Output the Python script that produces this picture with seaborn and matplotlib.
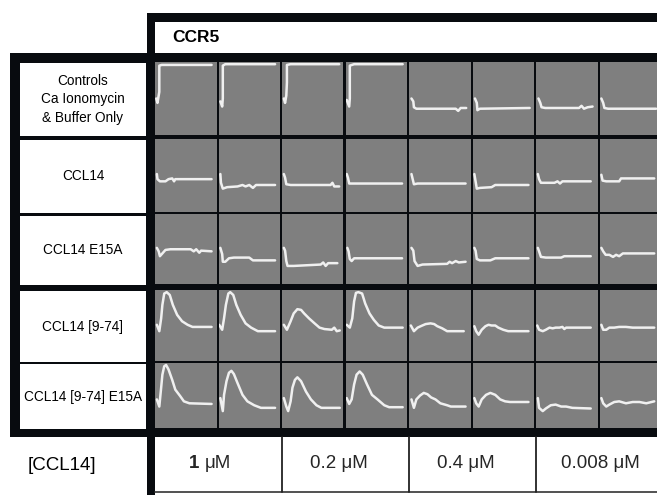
import matplotlib
matplotlib.use("Agg")
import matplotlib.pyplot as plt
from matplotlib.patches import Rectangle
import seaborn as sns

sns.set_theme(style="white")
plt.rcParams['font.family'] = ['Liberation Sans', 'DejaVu Sans']

# ---------------- data ----------------
receptor = "CCR5"
row_labels = ["Controls\nCa Ionomycin\n& Buffer Only", "CCL14", "CCL14 E15A",
              "CCL14 [9-74]", "CCL14 [9-74] E15A"]
conc_axis_label = "[CCL14]"
conc_values = ["1", "0.2", "0.4", "0.008"]
conc_unit = "\u03bcM"

# traces: normalized time (0..1) and normalized signal (0..1) per cell, 8 cells per row
controls_t = [
    [0.02, 0.04, 0.07, 0.07, 0.11, 0.92],
    [0.03, 0.06, 0.07, 0.07, 0.11, 0.92],
    [0.03, 0.05, 0.07, 0.08, 0.08, 0.08, 0.14, 0.93],
    [0.02, 0.06, 0.07, 0.07, 0.14, 0.93],
    [0.04, 0.07, 0.08, 0.12, 0.76, 0.80, 0.84, 0.93],
    [0.04, 0.07, 0.08, 0.12, 0.93],
    [0.04, 0.07, 0.09, 0.15, 0.70, 0.74, 0.78, 0.84, 0.92],
    [0.03, 0.06, 0.08, 0.14, 0.92],
]
controls_v = [
    [0.50, 0.44, 0.59, 0.95, 0.96, 0.96],
    [0.46, 0.39, 0.50, 0.95, 0.97, 0.97],
    [0.50, 0.44, 0.54, 0.72, 0.86, 0.96, 0.97, 0.97],
    [0.48, 0.39, 0.50, 0.95, 0.97, 0.97],
    [0.50, 0.46, 0.38, 0.36, 0.36, 0.33, 0.37, 0.37],
    [0.50, 0.44, 0.34, 0.36, 0.37],
    [0.50, 0.44, 0.38, 0.37, 0.37, 0.40, 0.36, 0.38, 0.39],
    [0.50, 0.44, 0.37, 0.36, 0.36],
]

ccl14_t = [
    [0.03, 0.04, 0.08, 0.17, 0.22, 0.28, 0.31, 0.33, 0.92],
    [0.03, 0.04, 0.07, 0.14, 0.31, 0.39, 0.44, 0.50, 0.56, 0.61, 0.92],
    [0.03, 0.05, 0.07, 0.14, 0.79, 0.82, 0.85, 0.93],
    [0.02, 0.04, 0.06, 0.13, 0.92],
    [0.04, 0.06, 0.08, 0.14, 0.92],
    [0.03, 0.05, 0.07, 0.12, 0.31, 0.37, 0.91],
    [0.03, 0.05, 0.08, 0.16, 0.30, 0.35, 0.39, 0.43, 0.89],
    [0.03, 0.05, 0.11, 0.32, 0.35, 0.89],
]
ccl14_v = [
    [0.52, 0.45, 0.42, 0.42, 0.45, 0.46, 0.42, 0.45, 0.45],
    [0.52, 0.40, 0.32, 0.34, 0.35, 0.37, 0.35, 0.37, 0.33, 0.37, 0.37],
    [0.52, 0.47, 0.38, 0.37, 0.37, 0.40, 0.35, 0.35],
    [0.52, 0.47, 0.39, 0.39, 0.39],
    [0.52, 0.45, 0.38, 0.39, 0.39],
    [0.52, 0.42, 0.32, 0.33, 0.34, 0.37, 0.37],
    [0.52, 0.45, 0.40, 0.40, 0.40, 0.42, 0.39, 0.42, 0.42],
    [0.51, 0.43, 0.42, 0.42, 0.46, 0.46],
]

e15a_t = [
    [0.03, 0.06, 0.08, 0.13, 0.17, 0.25, 0.58, 0.63, 0.67, 0.72, 0.75, 0.92],
    [0.03, 0.06, 0.07, 0.11, 0.17, 0.25, 0.50, 0.56, 0.92],
    [0.03, 0.05, 0.07, 0.09, 0.19, 0.63, 0.67, 0.71, 0.75, 0.90],
    [0.03, 0.05, 0.07, 0.10, 0.14, 0.92],
    [0.04, 0.07, 0.09, 0.14, 0.22, 0.62, 0.66, 0.70, 0.76, 0.81, 0.92],
    [0.03, 0.05, 0.07, 0.12, 0.29, 0.37, 0.91],
    [0.03, 0.05, 0.08, 0.16, 0.41, 0.46, 0.89],
    [0.03, 0.06, 0.10, 0.16, 0.22, 0.27, 0.32, 0.38, 0.89],
]
e15a_v = [
    [0.52, 0.47, 0.40, 0.45, 0.49, 0.50, 0.50, 0.47, 0.50, 0.45, 0.48, 0.47],
    [0.52, 0.43, 0.32, 0.32, 0.37, 0.38, 0.38, 0.34, 0.34],
    [0.52, 0.48, 0.33, 0.26, 0.26, 0.28, 0.31, 0.26, 0.30, 0.30],
    [0.52, 0.47, 0.36, 0.33, 0.37, 0.37],
    [0.52, 0.48, 0.33, 0.26, 0.28, 0.29, 0.32, 0.30, 0.33, 0.31, 0.32],
    [0.52, 0.48, 0.36, 0.34, 0.34, 0.37, 0.37],
    [0.52, 0.47, 0.39, 0.38, 0.38, 0.40, 0.40],
    [0.52, 0.47, 0.42, 0.42, 0.39, 0.42, 0.40, 0.44, 0.44],
]

trunc_t = [
    [0.03, 0.07, 0.10, 0.12, 0.15, 0.19, 0.24, 0.29, 0.36, 0.44, 0.53, 0.61, 0.92],
    [0.01, 0.06, 0.09, 0.12, 0.16, 0.19, 0.24, 0.29, 0.36, 0.44, 0.53, 0.64, 0.92],
    [0.03, 0.08, 0.14, 0.19, 0.25, 0.31, 0.36, 0.44, 0.53, 0.61, 0.69, 0.81, 0.85, 0.89, 0.94],
    [0.02, 0.07, 0.11, 0.14, 0.17, 0.21, 0.27, 0.32, 0.39, 0.46, 0.54, 0.63, 0.71, 0.93],
    [0.03, 0.08, 0.14, 0.19, 0.27, 0.35, 0.41, 0.46, 0.54, 0.62, 0.89],
    [0.03, 0.06, 0.10, 0.15, 0.21, 0.26, 0.31, 0.37, 0.42, 0.50, 0.58, 0.91],
    [0.02, 0.05, 0.11, 0.16, 0.22, 0.27, 0.32, 0.38, 0.43, 0.46, 0.49, 0.89],
    [0.03, 0.06, 0.11, 0.16, 0.24, 0.32, 0.43, 0.54, 0.62, 0.89],
]
trunc_v = [
    [0.51, 0.42, 0.60, 0.79, 0.95, 0.97, 0.93, 0.79, 0.65, 0.56, 0.51, 0.48, 0.48],
    [0.51, 0.44, 0.60, 0.79, 0.95, 0.97, 0.93, 0.79, 0.65, 0.53, 0.47, 0.42, 0.42],
    [0.51, 0.44, 0.56, 0.67, 0.73, 0.72, 0.67, 0.60, 0.53, 0.47, 0.45, 0.44, 0.47, 0.42, 0.43],
    [0.51, 0.47, 0.60, 0.84, 0.96, 0.97, 0.95, 0.81, 0.67, 0.58, 0.50, 0.47, 0.47, 0.47],
    [0.50, 0.42, 0.47, 0.49, 0.52, 0.53, 0.52, 0.49, 0.46, 0.42, 0.42],
    [0.49, 0.42, 0.37, 0.44, 0.49, 0.51, 0.50, 0.50, 0.47, 0.44, 0.42, 0.42],
    [0.50, 0.44, 0.42, 0.44, 0.47, 0.46, 0.47, 0.47, 0.48, 0.45, 0.47, 0.47],
    [0.51, 0.44, 0.44, 0.47, 0.47, 0.48, 0.48, 0.47, 0.47, 0.47],
]

trunc_e15a_t = [
    [0.03, 0.07, 0.10, 0.12, 0.15, 0.18, 0.22, 0.28, 0.33, 0.41, 0.47, 0.56, 0.92],
    [0.03, 0.07, 0.09, 0.13, 0.17, 0.21, 0.25, 0.31, 0.39, 0.47, 0.58, 0.69, 0.92],
    [0.03, 0.07, 0.10, 0.14, 0.17, 0.21, 0.25, 0.31, 0.39, 0.47, 0.56, 0.64, 0.94],
    [0.02, 0.06, 0.10, 0.14, 0.18, 0.23, 0.28, 0.35, 0.43, 0.52, 0.63, 0.71, 0.93],
    [0.04, 0.08, 0.12, 0.18, 0.24, 0.30, 0.36, 0.43, 0.51, 0.62, 0.68, 0.92],
    [0.03, 0.06, 0.10, 0.15, 0.22, 0.29, 0.37, 0.45, 0.53, 0.61, 0.91],
    [0.03, 0.05, 0.11, 0.16, 0.24, 0.32, 0.41, 0.49, 0.59, 0.89],
    [0.03, 0.06, 0.11, 0.16, 0.24, 0.32, 0.43, 0.54, 0.65, 0.76, 0.89],
]
trunc_e15a_v = [
    [0.44, 0.33, 0.62, 0.82, 0.95, 0.97, 0.90, 0.74, 0.59, 0.49, 0.41, 0.38, 0.37],
    [0.46, 0.26, 0.51, 0.72, 0.85, 0.88, 0.83, 0.69, 0.51, 0.41, 0.35, 0.31, 0.31],
    [0.46, 0.33, 0.26, 0.41, 0.62, 0.74, 0.78, 0.72, 0.56, 0.44, 0.35, 0.31, 0.31],
    [0.46, 0.37, 0.44, 0.67, 0.82, 0.87, 0.82, 0.67, 0.51, 0.44, 0.35, 0.32, 0.32],
    [0.44, 0.31, 0.44, 0.50, 0.54, 0.52, 0.47, 0.44, 0.38, 0.35, 0.33, 0.33],
    [0.46, 0.38, 0.33, 0.44, 0.51, 0.54, 0.51, 0.44, 0.41, 0.40, 0.40],
    [0.46, 0.31, 0.26, 0.30, 0.35, 0.36, 0.33, 0.33, 0.31, 0.30],
    [0.46, 0.38, 0.33, 0.36, 0.40, 0.41, 0.38, 0.40, 0.40, 0.38, 0.41],
]

rows_t = [controls_t, ccl14_t, e15a_t, trunc_t, trunc_e15a_t]
rows_v = [controls_v, ccl14_v, e15a_v, trunc_v, trunc_e15a_v]

# ---------------- layout (pixels) ----------------
W, H = 657, 495
BLACK = "#080b0f"
GRAY = "#7f7f7f"
TRACE = "#f0f0f0"

col_left = [155, 218.5, 282, 345.5, 409, 472.5, 536, 599.5]
col_w = 61.5
row_top = [62, 139, 214.5, 290, 363]
row_bot = [135, 212, 284, 361, 428]

fig = plt.figure(figsize=(W / 100, H / 100), dpi=100)
bg = fig.add_axes([0, 0, 1, 1])
bg.set_xlim(0, W)
bg.set_ylim(H, 0)
bg.axis("off")

def rect(x0, y0, x1, y1, color):
    bg.add_patch(Rectangle((x0, y0), x1 - x0, y1 - y0, facecolor=color,
                           edgecolor="none", lw=0))

# header box
rect(147, 13, W, 62, BLACK)
rect(155, 22, W, 53, "white")
bg.text(172, 38, receptor, fontsize=12.5, fontweight="bold", ha="left", va="center",
        color="black")

# main frame
rect(10, 53, W, 437, BLACK)
rect(147, 53, 155, H, BLACK)

# label boxes
for lab, y0, y1 in zip(row_labels, row_top, row_bot):
    rect(20, y0 + 1, 146, y1 + 1, "white")
    bg.text(83, (y0 + y1) / 2 + 1, lab, fontsize=9.8, ha="center", va="center",
            linespacing=1.45, color="black")

# bottom concentration boxes
rect(155, 437, W, 492, "white")
bg.plot([155, W], [492, 492], color="#333333", lw=1.2)
bounds = [155, 281.5, 408.5, 535.5, W]
for x in bounds[1:-1]:
    bg.plot([x, x], [437, 492], color="#222222", lw=1.3)
bg.text(62, 465, conc_axis_label, fontsize=13.5, ha="center", va="center", color="black")
for i, val in enumerate(conc_values):
    cx = (bounds[i] + bounds[i + 1]) / 2 - 6
    if i == 3:
        cx = 600
    if val == "1":
        bg.text(cx - 13, 463, val, fontsize=13.5, fontweight="bold", ha="right", va="center")
        bg.text(cx - 8, 463, conc_unit, fontsize=13.5, ha="left", va="center")
    else:
        bg.text(cx, 463, f"{val} {conc_unit}", fontsize=13.5, ha="center", va="center")

# trace cells
for r in range(5):
    for c in range(8):
        x0 = col_left[c]
        y0, y1 = row_top[r], row_bot[r]
        ax = fig.add_axes([x0 / W, 1 - y1 / H, col_w / W, (y1 - y0) / H])
        ax.set_facecolor(GRAY)
        ax.set_xlim(0, 1)
        ax.set_ylim(0, 1)
        sns.lineplot(x=rows_t[r][c], y=rows_v[r][c], ax=ax, color=TRACE, lw=1.8,
                     estimator=None, sort=False)
        ax.set_xticks([])
        ax.set_yticks([])
        ax.set_xlabel("")
        ax.set_ylabel("")
        for s in ax.spines.values():
            s.set_visible(False)

fig.savefig("out.png", dpi=100)
